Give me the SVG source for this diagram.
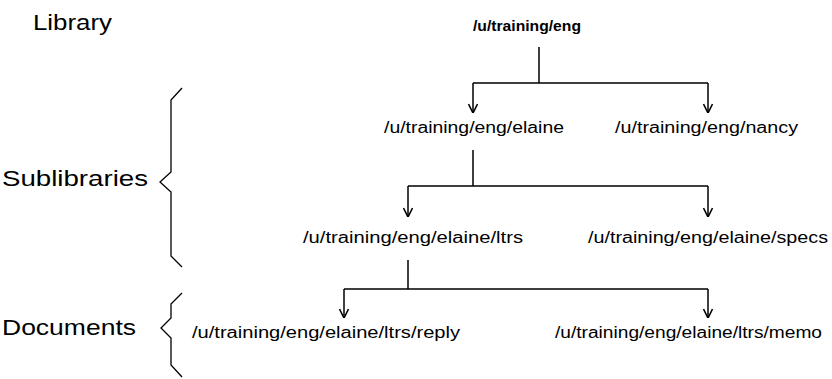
<svg xmlns="http://www.w3.org/2000/svg" width="832" height="379" viewBox="0 0 832 379">
<defs>
<style>
.lbl{font-family:"Liberation Sans","DejaVu Sans",sans-serif;font-size:22px;fill:#000}
.path{font-family:"Liberation Sans","DejaVu Sans",sans-serif;font-size:16px;fill:#000}
.root{font-weight:bold;font-size:15px}
.ln{stroke:#000;stroke-width:1.5;fill:none}
.br{stroke:#000;stroke-width:1.3;fill:none}
</style>
<marker id="arr" viewBox="0 0 10 10" refX="10" refY="5" markerWidth="10" markerHeight="10" markerUnits="userSpaceOnUse" orient="auto">
<path d="M1,0.5 L10,5 L1,9.5" fill="none" stroke="#000" stroke-width="1.6"/>
</marker>
</defs>
<rect width="832" height="379" fill="#fff"/>
<g id="labels">
<text class="lbl" x="33" y="30" textLength="79" lengthAdjust="spacingAndGlyphs">Library</text>
<text class="lbl" x="2" y="186" textLength="146" lengthAdjust="spacingAndGlyphs">Sublibraries</text>
<text class="lbl" x="2" y="335" textLength="134" lengthAdjust="spacingAndGlyphs">Documents</text>
</g>
<g id="braces">
<path class="br" d="M182,88 L171,100 L171,172 L160,182 L171,192 L171,256 L182,267"/>
<path class="br" d="M182,293 L171,304 L171,318 L161,328 L171,338 L171,365 L182,377"/>
</g>
<g id="n-eng"><text class="path root" x="473" y="31" textLength="108" lengthAdjust="spacingAndGlyphs">/u/training/eng</text></g>
<g id="n-elaine"><text class="path" x="384" y="133" textLength="180" lengthAdjust="spacingAndGlyphs">/u/training/eng/elaine</text></g>
<g id="n-nancy"><text class="path" x="615" y="133" textLength="183" lengthAdjust="spacingAndGlyphs">/u/training/eng/nancy</text></g>
<g id="n-ltrs"><text class="path" x="303" y="243" textLength="220" lengthAdjust="spacingAndGlyphs">/u/training/eng/elaine/ltrs</text></g>
<g id="n-specs"><text class="path" x="588" y="243" textLength="240" lengthAdjust="spacingAndGlyphs">/u/training/eng/elaine/specs</text></g>
<g id="n-reply"><text class="path" x="192" y="338" textLength="268" lengthAdjust="spacingAndGlyphs">/u/training/eng/elaine/ltrs/reply</text></g>
<g id="n-memo"><text class="path" x="555" y="338" textLength="267" lengthAdjust="spacingAndGlyphs">/u/training/eng/elaine/ltrs/memo</text></g>
<g id="connectors">
<path class="ln" d="M539,47 V83 M473,83 H708"/>
<path class="ln" d="M473,83 V113" marker-end="url(#arr)"/>
<path class="ln" d="M708,83 V113" marker-end="url(#arr)"/>
<path class="ln" d="M473,150 V186 M408,186 H708"/>
<path class="ln" d="M408,186 V217" marker-end="url(#arr)"/>
<path class="ln" d="M708,186 V217" marker-end="url(#arr)"/>
<path class="ln" d="M408,260 V289 M344,289 H708"/>
<path class="ln" d="M344,289 V318" marker-end="url(#arr)"/>
<path class="ln" d="M708,289 V318" marker-end="url(#arr)"/>
</g>
</svg>
